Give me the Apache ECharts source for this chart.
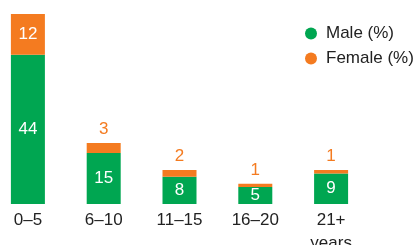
<!DOCTYPE html>
<html>
<head>
<meta charset="utf-8">
<script src="https://cdn.jsdelivr.net/npm/echarts@6/dist/echarts.min.js"></script>
<style>
  html, body { margin: 0; padding: 0; background: #fff; }
  #chart { width: 419px; height: 245px; }
</style>
</head>
<body>
<div id="chart"></div>
<script>
const categories = ['0–5', '6–10', '11–15', '16–20', '21+\nyears'];
const male = [44, 15, 8, 5, 9];
const female = [12, 3, 2, 1, 1];

const green = '#00a651';
const orange = '#f47b20';
const font = 'Liberation Sans, Arial, Helvetica, sans-serif';

// the first (tall) bar has its female label inside, the rest sit on top
const femaleData = female.map((v, i) => ({
  value: v,
  label: i === 0
    ? { position: 'inside', color: '#fff' }
    : { position: 'top', color: orange, distance: 5 }
}));

const chart = echarts.init(document.getElementById('chart'));
chart.setOption({
  animation: false,
  grid: { left: -10, width: 379, top: 14, bottom: 41, outerBoundsMode: 'none', containLabel: false },
  legend: {
    orient: 'vertical',
    left: 300,
    top: 20,
    icon: 'circle',
    itemWidth: 20,
    itemHeight: 12,
    itemGap: 8,
    textStyle: { fontSize: 17, color: '#222', fontFamily: font },
    data: ['Male (%)', 'Female (%)']
  },
  xAxis: {
    type: 'category',
    data: categories,
    axisLine: { show: false },
    axisTick: { show: false },
    axisLabel: {
      margin: 5,
      fontSize: 17,
      lineHeight: 23,
      color: '#222',
      fontFamily: font,
      verticalAlign: 'top'
    }
  },
  yAxis: { type: 'value', min: 0, max: 56, show: false },
  series: [
    {
      name: 'Male (%)',
      type: 'bar',
      stack: 'total',
      barWidth: 34,
      itemStyle: { color: green },
      label: { show: true, position: 'inside', color: '#fff', fontSize: 17, fontFamily: font },
      data: male
    },
    {
      name: 'Female (%)',
      type: 'bar',
      stack: 'total',
      barWidth: 34,
      itemStyle: { color: orange },
      label: { show: true, fontSize: 17, fontFamily: font },
      data: femaleData
    }
  ]
});
</script>
</body>
</html>
